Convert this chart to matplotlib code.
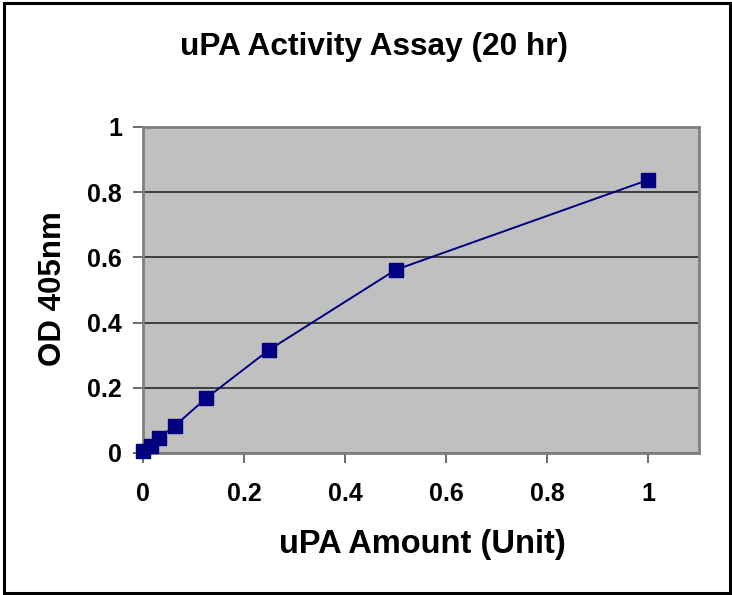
import matplotlib
matplotlib.use("Agg")
import matplotlib.pyplot as plt
from matplotlib.patches import Rectangle

upa_units = [0, 0.015625, 0.03125, 0.0625, 0.125, 0.25, 0.5, 1.0]
od_405 = [0.006, 0.022, 0.046, 0.083, 0.168, 0.317, 0.562, 0.838]
x_ticks = [0, 0.2, 0.4, 0.6, 0.8, 1]
x_tick_labels = ["0", "0.2", "0.4", "0.6", "0.8", "1"]
y_ticks = [0, 0.2, 0.4, 0.6, 0.8, 1]
y_tick_labels = ["0", "0.2", "0.4", "0.6", "0.8", "1"]

plt.rcParams['font.family'] = ['Liberation Sans', 'DejaVu Sans']
plt.rcParams['font.weight'] = 'bold'

fig = plt.figure(figsize=(7.32, 5.95), dpi=100)
fig.patch.set_facecolor('white')
fig.add_artist(Rectangle((4/732, 2/595), 726/732, 590/595, transform=fig.transFigure,
                         fill=False, edgecolor='black', linewidth=2.2))

ax = fig.add_axes([143/732, (595-453)/595, (699-143)/732, (453-127)/595])
ax.set_facecolor('#C0C0C0')
ax.plot(upa_units, od_405, color='#000080', linewidth=1.4, marker='s',
        markersize=9.5, markerfacecolor='#000080', markeredgecolor='#000080',
        zorder=3, clip_on=False)
ax.set_xlim(0, 1.1)
ax.set_ylim(0, 1)
ax.set_xticks(x_ticks)
ax.set_xticklabels(x_tick_labels)
ax.set_yticks(y_ticks)
ax.set_yticklabels(y_tick_labels)
ax.yaxis.grid(True, color='#333333', linewidth=1.3)
ax.set_axisbelow(True)
for s in ax.spines.values():
    s.set_color('#808080')
    s.set_linewidth(2)
ax.tick_params(axis='both', direction='out', length=7, width=1.3, color='#606060',
               labelsize=18)
ax.tick_params(axis='x', pad=14)
ax.tick_params(axis='y', pad=8)
for lbl in ax.get_xticklabels() + ax.get_yticklabels():
    lbl.set_fontweight('bold')
ax.set_xlabel('uPA Amount (Unit)', fontsize=23.5, fontweight='bold', va='center')
ax.xaxis.set_label_coords((422-143)/556, (453-545)/326)
ax.set_ylabel('OD 405nm', fontsize=22.5, fontweight='bold', va='center')
ax.yaxis.set_label_coords((53-143)/556, (453-289)/326)
fig.text(374/732, 1-47/595, 'uPA Activity Assay (20 hr)', ha='center', va='center',
         fontsize=22.8, fontweight='bold')

fig.savefig('out.png', dpi=100)
